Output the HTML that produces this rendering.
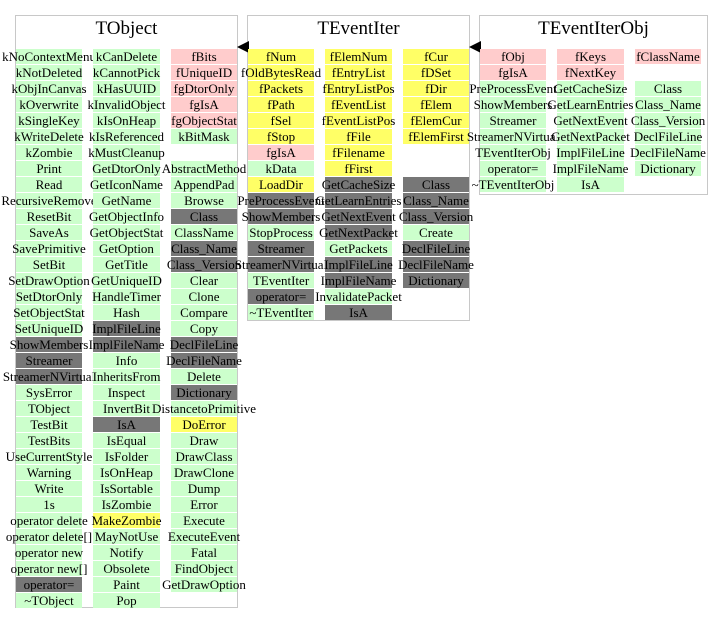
<!DOCTYPE html>
<html><head><meta charset="utf-8"><style>
body{margin:0;width:717px;height:624px;background:#fff;position:relative;overflow:hidden;font-family:"Liberation Serif",serif}
.p{position:absolute;border:1px solid #c8c8c8;box-sizing:border-box;background:#fff}
.t{position:absolute;font-size:19px;text-align:center;white-space:nowrap}
.c{position:absolute;height:15px;display:flex;justify-content:center;align-items:center;white-space:nowrap;font-size:13px;line-height:15px;color:#000}
.g{background:#ccffcc}.r{background:#ffcccc}.y{background:#ffff66}.d{background:#777777}
</style></head><body>
<div class="p" style="left:15px;top:15px;width:223px;height:593px"></div>
<div class="t" style="left:15px;top:18px;width:223px">TObject</div>
<div class="p" style="left:247px;top:15px;width:223px;height:306px"></div>
<div class="t" style="left:247px;top:18px;width:223px">TEventIter</div>
<div class="p" style="left:479px;top:15px;width:229px;height:180px"></div>
<div class="t" style="left:479px;top:18px;width:229px">TEventIterObj</div>
<svg style="position:absolute;left:0;top:0" width="717" height="624">
<polygon points="237,47 249,41 249,53" fill="#000"/>
<polygon points="469,47 481,41 481,53" fill="#000"/>
</svg>
<div id="root"></div>
<script>
const colX=[[16,66],[93,67],[171,66],[248,66],[325,67],[403,66],[480,66],[557,67],[635,66]];
const cols=[
["kNoContextMenu:g","kNotDeleted:g","kObjInCanvas:g","kOverwrite:g","kSingleKey:g","kWriteDelete:g","kZombie:g","Print:g","Read:g","RecursiveRemove:g","ResetBit:g","SaveAs:g","SavePrimitive:g","SetBit:g","SetDrawOption:g","SetDtorOnly:g","SetObjectStat:g","SetUniqueID:g","ShowMembers:d","Streamer:d","StreamerNVirtual:d","SysError:g","TObject:g","TestBit:g","TestBits:g","UseCurrentStyle:g","Warning:g","Write:g","1s:g","operator delete:g","operator delete[]:g","operator new:g","operator new[]:g","operator=:d","~TObject:g"],
["kCanDelete:g","kCannotPick:g","kHasUUID:g","kInvalidObject:g","kIsOnHeap:g","kIsReferenced:g","kMustCleanup:g","GetDtorOnly:g","GetIconName:g","GetName:g","GetObjectInfo:g","GetObjectStat:g","GetOption:g","GetTitle:g","GetUniqueID:g","HandleTimer:g","Hash:g","ImplFileLine:d","ImplFileName:d","Info:g","InheritsFrom:g","Inspect:g","InvertBit:g","IsA:d","IsEqual:g","IsFolder:g","IsOnHeap:g","IsSortable:g","IsZombie:g","MakeZombie:y","MayNotUse:g","Notify:g","Obsolete:g","Paint:g","Pop:g"],
["fBits:r","fUniqueID:r","fgDtorOnly:r","fgIsA:r","fgObjectStat:r","kBitMask:g","","AbstractMethod:g","AppendPad:g","Browse:g","Class:d","ClassName:g","Class_Name:d","Class_Version:d","Clear:g","Clone:g","Compare:g","Copy:g","DeclFileLine:d","DeclFileName:d","Delete:g","Dictionary:d","DistancetoPrimitive:g","DoError:y","Draw:g","DrawClass:g","DrawClone:g","Dump:g","Error:g","Execute:g","ExecuteEvent:g","Fatal:g","FindObject:g","GetDrawOption:g"],
["fNum:y","fOldBytesRead:y","fPackets:y","fPath:y","fSel:y","fStop:y","fgIsA:r","kData:g","LoadDir:y","PreProcessEvent:d","ShowMembers:d","StopProcess:g","Streamer:d","StreamerNVirtual:d","TEventIter:g","operator=:d","~TEventIter:g"],
["fElemNum:y","fEntryList:y","fEntryListPos:y","fEventList:y","fEventListPos:y","fFile:y","fFilename:y","fFirst:y","GetCacheSize:d","GetLearnEntries:d","GetNextEvent:d","GetNextPacket:d","GetPackets:g","ImplFileLine:d","ImplFileName:d","InvalidatePacket:g","IsA:d"],
["fCur:y","fDSet:y","fDir:y","fElem:y","fElemCur:y","fElemFirst:y","","","Class:d","Class_Name:d","Class_Version:d","Create:g","DeclFileLine:d","DeclFileName:d","Dictionary:d"],
["fObj:r","fgIsA:r","PreProcessEvent:g","ShowMembers:g","Streamer:g","StreamerNVirtual:g","TEventIterObj:g","operator=:g","~TEventIterObj:g"],
["fKeys:r","fNextKey:r","GetCacheSize:g","GetLearnEntries:g","GetNextEvent:g","GetNextPacket:g","ImplFileLine:g","ImplFileName:g","IsA:g"],
["fClassName:r","","Class:g","Class_Name:g","Class_Version:g","DeclFileLine:g","DeclFileName:g","Dictionary:g"]
];
const root=document.getElementById('root');
cols.forEach((col,ci)=>{
  col.forEach((e,ri)=>{
    if(!e)return;
    const i=e.lastIndexOf(':');const name=e.slice(0,i),cl=e.slice(i+1);
    const d=document.createElement('div');
    d.className='c '+cl;
    d.style.left=colX[ci][0]+'px';d.style.width=colX[ci][1]+'px';
    d.style.top=(49+ri*16)+'px';
    d.textContent=name;
    
    
    root.appendChild(d);
  });
});
</script>
</body></html>
